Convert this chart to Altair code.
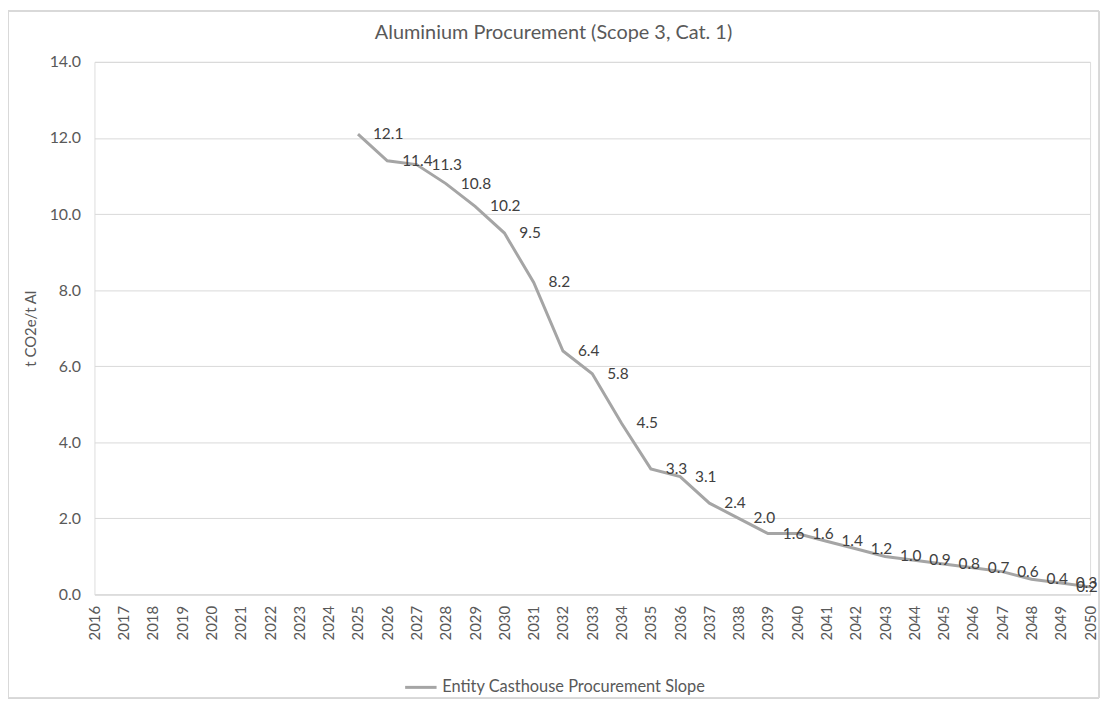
import altair as alt
import pandas as pd

years = [str(y) for y in range(2016, 2051)]
values = [None] * 9 + [12.1, 11.4, 11.3, 10.8, 10.2, 9.5, 8.2, 6.4, 5.8, 4.5,
                       3.3, 3.1, 2.4, 2.0, 1.6, 1.6, 1.4, 1.2, 1.0, 0.9,
                       0.8, 0.7, 0.6, 0.4, 0.3, 0.2]
series_name = "Entity Casthouse Procurement Slope"
title_text = "Aluminium Procurement (Scope 3, Cat. 1)"
y_title = "t CO2e/t Al"

df = pd.DataFrame({"year": years, "value": values, "series": series_name})

FONT = "Lato"
GRAY = "#595959"

x_enc = alt.X("year:O", scale=alt.Scale(type="point", domain=years, padding=0),
              axis=alt.Axis(title=None, labelAngle=270, labelFontSize=15, labelColor=GRAY,
                            labelFont=FONT, ticks=False, domainColor="#D9D9D9",
                            labelPadding=11, labelBaseline="middle", labelAlign="right"))
y_enc = alt.Y("value:Q", scale=alt.Scale(domain=[0, 14]),
              axis=alt.Axis(title=y_title, values=[0, 2, 4, 6, 8, 10, 12, 14], format=".1f",
                            labelFontSize=16, labelColor=GRAY, labelFont=FONT,
                            titleFont=FONT, titleFontSize=15, titleColor=GRAY,
                            titleFontWeight="normal", titlePadding=11,
                            domain=False, ticks=False, gridColor="#D9D9D9",
                            labelPadding=14))

base = alt.Chart(df)

border = base.mark_rect(fill=None, stroke="#D9D9D9", strokeWidth=1).encode(
    x=alt.value(-87), x2=alt.value(1011), y=alt.value(-51), y2=alt.value(640)
)

line = base.mark_line(strokeWidth=3).encode(
    x=x_enc, y=y_enc,
    color=alt.Color("series:N", scale=alt.Scale(range=["#A5A5A5"]),
                    legend=alt.Legend(title=None, orient="none", legendX=311, legendY=612,
                                      symbolType="stroke", symbolSize=1000,
                                      symbolStrokeWidth=3, labelFontSize=16.5,
                                      labelLimit=0, labelColor=GRAY, labelFont=FONT))
)

labels = base.mark_text(align="left", baseline="middle", dx=15, fontSize=15.5,
                        color="#404040", font=FONT).encode(
    x="year:O", y="value:Q", text=alt.Text("value:Q", format=".1f")
).transform_filter("datum.value != null && datum.year != '2050'")

last_label = base.mark_text(align="left", baseline="middle", dx=-14, fontSize=15.5,
                            color="#404040", font=FONT).encode(
    x="year:O", y="value:Q", text=alt.Text("value:Q", format=".1f")
).transform_filter("datum.year == '2050'")

chart = alt.layer(border, line, labels, last_label).properties(
    width=1002, height=536,
    autosize=alt.AutoSizeParams(type="none"),
    padding={"left": 87, "top": 52, "right": 12, "bottom": 105},
    title=alt.TitleParams(title_text, fontSize=20, color=GRAY, font=FONT,
                          fontWeight="normal", anchor="middle", frame="bounds",
                          offset=-32)
).configure_view(stroke=None).configure(background="white")

chart.save("out.html", embed_options={"renderer": "svg", "actions": False})
